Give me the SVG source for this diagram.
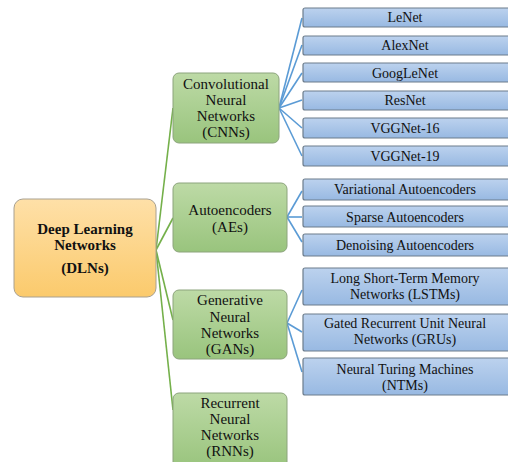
<svg xmlns="http://www.w3.org/2000/svg" width="508" height="462" viewBox="0 0 508 462">
<defs>
<linearGradient id="gOrange" x1="0" y1="0" x2="0" y2="1"><stop offset="0" stop-color="#FEE0A8"/><stop offset="1" stop-color="#FBCA6C"/></linearGradient>
<linearGradient id="gGreen" x1="0" y1="0" x2="0" y2="1"><stop offset="0" stop-color="#BDDAA6"/><stop offset="1" stop-color="#99C47D"/></linearGradient>
<linearGradient id="gBlue" x1="0" y1="0" x2="0" y2="1"><stop offset="0" stop-color="#BCD2EE"/><stop offset="1" stop-color="#98B9E2"/></linearGradient>
</defs>
<style>
.root{fill:url(#gOrange);stroke:#A8A090;stroke-width:1}
.mid{fill:url(#gGreen);stroke:#8CA47C;stroke-width:1}
.leaf{fill:url(#gBlue);stroke:#6C7C8C;stroke-width:1.2}
.t{fill:#111;text-anchor:middle;font-family:"Liberation Serif","DejaVu Serif","Noto Serif",serif}
.rt{font-size:15px;font-weight:bold}
.mt{font-size:15px}
.lt{font-size:14px}
.gl{stroke:#74B04A;stroke-width:1.6;fill:none}
.bl{stroke:#5B9BD5;stroke-width:1.6;fill:none}
</style>
<g id="connectors">
<line class="gl" x1="156" y1="250" x2="173" y2="108"/>
<line class="gl" x1="156" y1="250" x2="173" y2="218"/>
<line class="gl" x1="156" y1="250" x2="173" y2="320"/>
<line class="gl" x1="156" y1="250" x2="173" y2="410"/>
<line class="bl" x1="279" y1="108" x2="302" y2="18"/>
<line class="bl" x1="279" y1="108" x2="302" y2="45"/>
<line class="bl" x1="279" y1="108" x2="302" y2="73"/>
<line class="bl" x1="279" y1="108" x2="302" y2="100"/>
<line class="bl" x1="279" y1="108" x2="302" y2="128"/>
<line class="bl" x1="279" y1="108" x2="302" y2="156"/>
<line class="bl" x1="287" y1="217" x2="302" y2="191"/>
<line class="bl" x1="287" y1="217" x2="302" y2="217"/>
<line class="bl" x1="287" y1="217" x2="302" y2="242"/>
<line class="bl" x1="287" y1="323" x2="302" y2="290"/>
<line class="bl" x1="287" y1="323" x2="302" y2="332"/>
<line class="bl" x1="287" y1="323" x2="302" y2="372"/>
</g>
<g id="dln"><rect class="root" x="14" y="199" width="142" height="98" rx="9"/>
<text class="t rt" x="85" y="234">Deep Learning</text><text class="t rt" x="85" y="250">Networks</text><text class="t rt" x="85" y="273">(DLNs)</text></g>
<g id="cnn"><rect class="mid" x="173" y="73" width="106" height="70" rx="6"/>
<text class="t mt" x="226" y="89">Convolutional</text><text class="t mt" x="226" y="105">Neural</text><text class="t mt" x="226" y="121">Networks</text><text class="t mt" x="226" y="137">(CNNs)</text></g>
<g id="ae"><rect class="mid" x="173" y="183" width="114" height="69" rx="6"/>
<text class="t mt" x="230" y="215">Autoencoders</text><text class="t mt" x="230" y="232">(AEs)</text></g>
<g id="gan"><rect class="mid" x="173" y="290" width="114" height="69" rx="6"/>
<text class="t mt" x="230" y="305">Generative</text><text class="t mt" x="230" y="322">Neural</text><text class="t mt" x="230" y="338">Networks</text><text class="t mt" x="230" y="354">(GANs)</text></g>
<g id="rnn"><rect class="mid" x="173" y="393" width="114" height="75" rx="6"/>
<text class="t mt" x="230" y="408">Recurrent</text><text class="t mt" x="230" y="424">Neural</text><text class="t mt" x="230" y="440">Networks</text><text class="t mt" x="230" y="456">(RNNs)</text></g>
<g id="lenet"><rect class="leaf" x="303" y="8" width="208" height="19" rx="2"/><text class="t lt" x="405" y="22">LeNet</text></g>
<g id="alexnet"><rect class="leaf" x="303" y="36" width="208" height="19" rx="2"/><text class="t lt" x="405" y="50">AlexNet</text></g>
<g id="googlenet"><rect class="leaf" x="303" y="63" width="208" height="19" rx="2"/><text class="t lt" x="405" y="78">GoogLeNet</text></g>
<g id="resnet"><rect class="leaf" x="303" y="91" width="208" height="19" rx="2"/><text class="t lt" x="405" y="105">ResNet</text></g>
<g id="vgg16"><rect class="leaf" x="303" y="118" width="208" height="20" rx="2"/><text class="t lt" x="405" y="133">VGGNet-16</text></g>
<g id="vgg19"><rect class="leaf" x="303" y="146" width="208" height="20" rx="2"/><text class="t lt" x="405" y="161">VGGNet-19</text></g>
<g id="vae"><rect class="leaf" x="303" y="179" width="208" height="21" rx="2"/><text class="t lt" x="405" y="194">Variational Autoencoders</text></g>
<g id="sae"><rect class="leaf" x="303" y="206" width="208" height="21" rx="2"/><text class="t lt" x="405" y="222">Sparse Autoencoders</text></g>
<g id="dae"><rect class="leaf" x="303" y="234" width="208" height="22" rx="2"/><text class="t lt" x="405" y="250">Denoising Autoencoders</text></g>
<g id="lstm"><rect class="leaf" x="303" y="268" width="208" height="37" rx="2"/><text class="t lt" x="405" y="283">Long Short-Term Memory</text><text class="t lt" x="405" y="299">Networks (LSTMs)</text></g>
<g id="gru"><rect class="leaf" x="303" y="314" width="208" height="37" rx="2"/><text class="t lt" x="405" y="328">Gated Recurrent Unit Neural</text><text class="t lt" x="405" y="344">Networks (GRUs)</text></g>
<g id="ntm"><rect class="leaf" x="303" y="358" width="208" height="37" rx="2"/><text class="t lt" x="405" y="374">Neural Turing Machines</text><text class="t lt" x="405" y="390">(NTMs)</text></g>
</svg>
